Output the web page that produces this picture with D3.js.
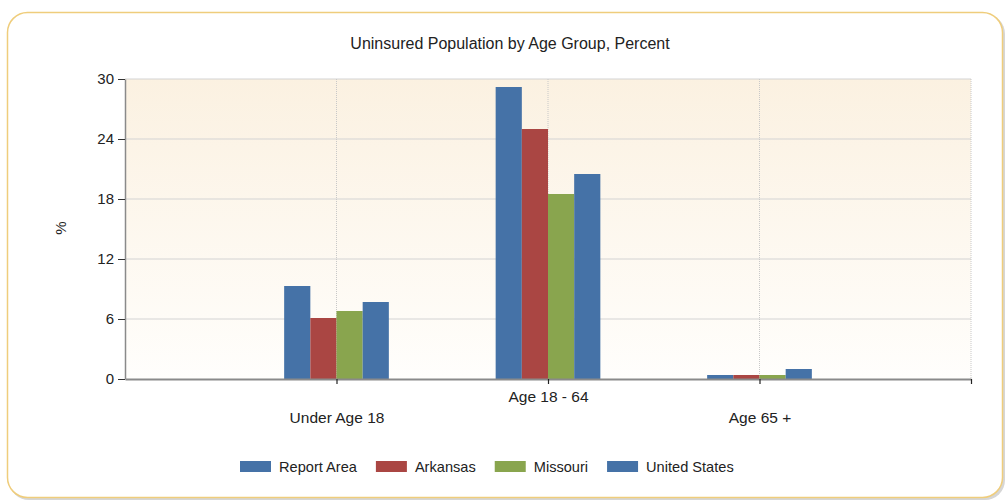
<!DOCTYPE html>
<html>
<head>
<meta charset="utf-8">
<script src="https://cdn.jsdelivr.net/npm/d3@7"></script>
<style>
  body { margin: 0; background: #fff; }
  svg { display: block; font-family: "Liberation Sans", Arial, sans-serif; }
  .axis text { fill: #222; font-size: 15.5px; }
  .axis-y text { font-size: 15px; }
</style>
</head>
<body>
<svg width="1006" height="502"></svg>
<script>
// chart data
var categories = ["Under Age 18", "Age 18 - 64", "Age 65 +"];
var seriesNames = ["Report Area", "Arkansas", "Missouri", "United States"];
var reportArea = [9.3, 29.2, 0.4];
var arkansas = [6.1, 25.0, 0.4];
var missouri = [6.8, 18.5, 0.4];
var unitedStates = [7.7, 20.5, 1.0];
var yTicks = [0, 6, 12, 18, 24, 30];
var colors = ["#4572a7", "#aa4643", "#89a54e", "#4572a7"];

var seriesValues = [reportArea, arkansas, missouri, unitedStates];

var svg = d3.select("svg"),
    margin = {top: 79, right: 35, bottom: 123, left: 125},
    width = svg.attr("width") - margin.left - margin.right,
    height = svg.attr("height") - margin.top - margin.bottom;

var defs = svg.append("defs");

// plot background gradient
var grad = defs.append("linearGradient")
    .attr("id", "bg")
    .attr("x1", 0).attr("y1", 0).attr("x2", 0).attr("y2", 1);
grad.append("stop").attr("offset", "0%").attr("stop-color", "#fbf1e1");
grad.append("stop").attr("offset", "100%").attr("stop-color", "#fffefc");

// outer frame, shadow first
svg.append("rect")
    .attr("x", 9).attr("y", 14)
    .attr("width", 996).attr("height", 486)
    .attr("rx", 20).attr("ry", 20)
    .attr("fill", "#d6d6d6");
svg.append("rect")
    .attr("x", 7.5).attr("y", 12.5)
    .attr("width", 995).attr("height", 485)
    .attr("rx", 20).attr("ry", 20)
    .attr("fill", "#fff")
    .attr("stroke", "#efcd7c")
    .attr("stroke-width", 1.5);

var g = svg.append("g").attr("transform", "translate(" + margin.left + "," + margin.top + ")");

//define scales
var x = d3.scaleLinear().domain([0, categories.length + 1]).range([0, width]),
    y = d3.scaleLinear().domain([0, 30]).range([height, 0]);

var groupWidth = (x(1) - x(0)) * 0.495;
var x1 = d3.scaleBand()
    .domain(seriesNames)
    .range([-groupWidth / 2, groupWidth / 2])
    .padding(0);

g.append("rect")
    .attr("width", width)
    .attr("height", height)
    .attr("fill", "url(#bg)");

// horizontal grid
g.append("g")
    .selectAll("line")
    .data(yTicks.slice(1))
    .enter().append("line")
    .attr("x1", 0).attr("x2", width)
    .attr("y1", function(d) { return y(d); })
    .attr("y2", function(d) { return y(d); })
    .attr("stroke", "#d3d3d3")
    .attr("stroke-width", 1.2);

// vertical dotted grid
g.append("g")
    .selectAll("line")
    .data(d3.range(1, categories.length + 2))
    .enter().append("line")
    .attr("x1", function(d) { return x(d); })
    .attr("x2", function(d) { return x(d); })
    .attr("y1", 0).attr("y2", height)
    .attr("stroke", "#c8c8c8")
    .attr("stroke-dasharray", "1,1");

// bars
var rows = categories.map(function(c, i) {
    return {cat: c, idx: i + 1, values: seriesNames.map(function(s, j) {
        return {name: s, value: seriesValues[j][i], color: colors[j]};
    })};
});

var grp = g.selectAll(".grp")
    .data(rows)
    .enter().append("g")
    .attr("class", "grp")
    .attr("transform", function(d) { return "translate(" + x(d.idx) + ",0)"; });

grp.selectAll("rect")
    .data(function(d) { return d.values; })
    .enter().append("rect")
    .attr("x", function(d) { return x1(d.name); })
    .attr("width", x1.bandwidth())
    .attr("y", function(d) { return y(d.value); })
    .attr("height", function(d) { return height - y(d.value); })
    .attr("fill", function(d) { return d.color; });

//append y axis
var yAxis = g.append("g")
    .attr("class", "axis axis-y")
    .call(d3.axisLeft(y).tickValues(yTicks).tickSize(7).tickSizeOuter(0).tickPadding(4));
yAxis.select(".domain").attr("stroke", "#8a8a8a").attr("stroke-width", 1.5);
yAxis.selectAll(".tick line").attr("stroke", "#333");

//append x axis, labels staggered
var xAxis = g.append("g")
    .attr("class", "axis axis-x")
    .attr("transform", "translate(0," + height + ")")
    .call(d3.axisBottom(x)
        .tickValues(d3.range(1, categories.length + 2))
        .tickSize(5)
        .tickSizeOuter(0)
        .tickFormat(function(d) { return categories[d - 1] || ""; }));
xAxis.select(".domain").attr("stroke", "#8a8a8a").attr("stroke-width", 2);
xAxis.selectAll(".tick line").attr("stroke", "#222").attr("stroke-width", 1.2);
xAxis.selectAll(".tick text")
    .attr("y", function(d) { return d % 2 === 0 ? 12 : 33; });

// y axis title
svg.append("text")
    .attr("transform", "translate(66,228) rotate(-90)")
    .attr("text-anchor", "middle")
    .style("font-size", "15px")
    .attr("fill", "#222")
    .text("%");

//define chart title
svg.append("text")
    .attr("x", 510)
    .attr("y", 49)
    .attr("text-anchor", "middle")
    .style("font-size", "16px")
    .attr("fill", "#222")
    .text("Uninsured Population by Age Group, Percent");

// legend
var legend = svg.append("g").attr("transform", "translate(240,461)");
var lx = 0;
seriesNames.forEach(function(s, i) {
    var item = legend.append("g").attr("transform", "translate(" + lx + ",0)");
    item.append("rect")
        .attr("width", 31).attr("height", 11)
        .attr("fill", colors[i]);
    var t = item.append("text")
        .attr("x", 39).attr("y", 11)
        .style("font-size", "14.6px")
        .attr("fill", "#222")
        .text(s);
    lx += 39 + t.node().getComputedTextLength() + 19;
});
</script>
</body>
</html>
